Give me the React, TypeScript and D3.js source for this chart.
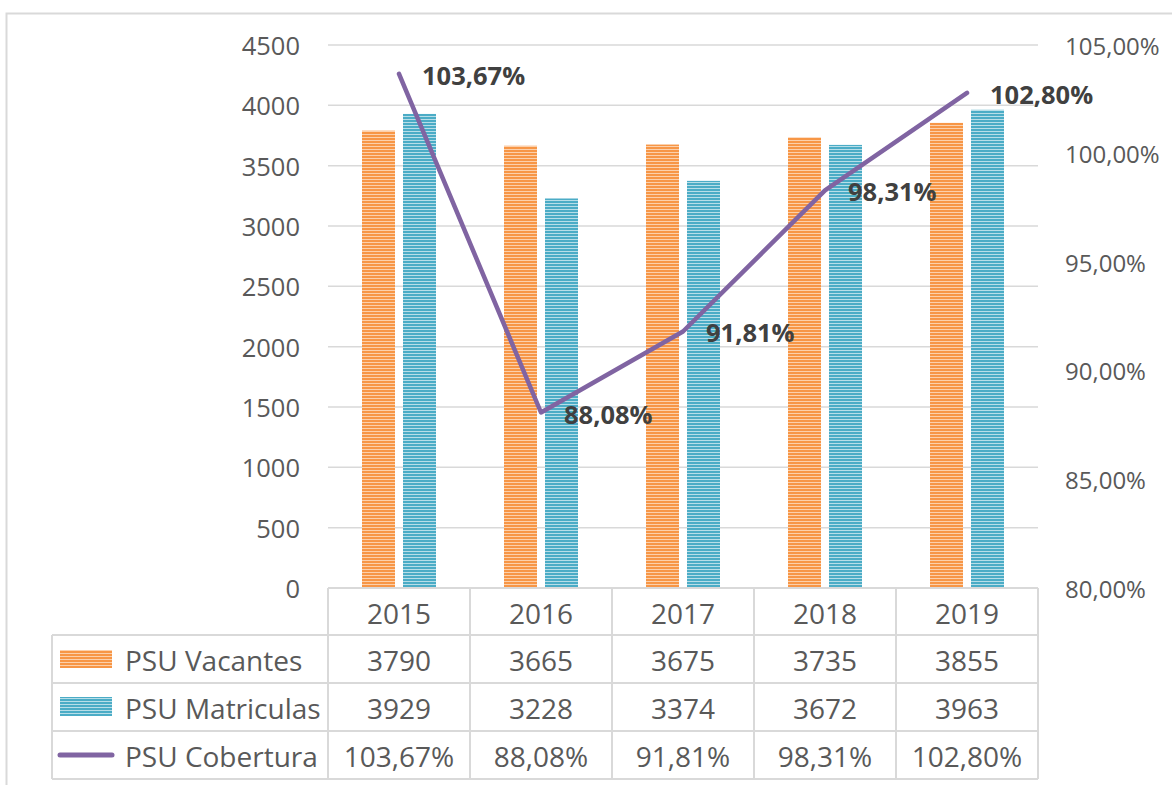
import React from 'react';
import * as d3 from 'd3';

const years = ['2015', '2016', '2017', '2018', '2019'];
const vacantes = [3790, 3665, 3675, 3735, 3855];
const matriculas = [3929, 3228, 3374, 3672, 3963];
const cobertura = [103.67, 88.08, 91.81, 98.31, 102.8];
const leftTicks = [0, 500, 1000, 1500, 2000, 2500, 3000, 3500, 4000, 4500];
const rightTicks = [80, 85, 90, 95, 100, 105];
const seriesNames = ['PSU Vacantes', 'PSU Matriculas', 'PSU Cobertura'];

const W = 1172;
const H = 785;
const FONT = '"Open Sans", sans-serif';
const TXT = '#595959';
const GRID = '#d9d9d9';
const ORANGE = '#f79646';
const BLUE = '#4bacc6';
const PURPLE = '#8064a2';

const pct = (v: number) => v.toFixed(2).replace('.', ',') + '%';

export default function App() {
  const left = 328, right = 1038, top = 45, bottom = 588;
  const x = d3.scaleBand<string>().domain(years).range([left, right]);
  const y = d3.scaleLinear().domain([0, 4500]).range([bottom, top]);
  const y2 = d3.scaleLinear().domain([80, 105]).range([bottom, top]);
  const bw = x.bandwidth();
  const barW = 33;
  const cx = (d: string) => (x(d) as number) + bw / 2;

  const line = d3.line<number>()
    .x((_, i) => cx(years[i]))
    .y(v => y2(v));

  const rowY = [588, 635, 683, 731, 779];
  const tableLeft = 52;
  const rows = [vacantes.map(String), matriculas.map(String), cobertura.map(pct)];

  return (
    <svg width={W} height={H} style={{ display: 'block', position: 'absolute', left: 0, top: 0 }}
      fontFamily={FONT}>
      <defs>
        <pattern id="pOrange" width={4} height={3} patternUnits="userSpaceOnUse">
          <rect width={4} height={3} fill="#fcd0ab" />
          <rect width={4} height={2} fill={ORANGE} />
        </pattern>
        <pattern id="pBlue" width={4} height={3} patternUnits="userSpaceOnUse">
          <rect width={4} height={3} fill="#b7dee8" />
          <rect width={4} height={2} fill={BLUE} />
        </pattern>
      </defs>
      <rect x={0} y={0} width={W} height={H} fill="#fff" />
      <rect x={6.5} y={13.5} width={1170} height={790} fill="none" stroke={GRID} strokeWidth={2} />

      {/* gridlines */}
      {leftTicks.map(t => (
        <line key={t} x1={left} x2={right} y1={y(t)} y2={y(t)} stroke={GRID} strokeWidth={1.5} />
      ))}

      {/* bars */}
      {years.map((yr, i) => (
        <g key={yr}>
          <rect x={cx(yr) - 37} y={y(vacantes[i])} width={barW} height={bottom - y(vacantes[i])}
            fill="url(#pOrange)" />
          <rect x={cx(yr) + 4} y={y(matriculas[i])} width={barW} height={bottom - y(matriculas[i])}
            fill="url(#pBlue)" />
        </g>
      ))}

      {/* line */}
      <path d={line(cobertura) || ''} fill="none" stroke={PURPLE} strokeWidth={4.5}
        strokeLinejoin="round" strokeLinecap="round" />
      {cobertura.map((v, i) => (
        <text key={i} x={cx(years[i]) + 23} y={y2(v) + 1} dominantBaseline="central"
          fontSize={25.5} fontWeight="bold" fill="#404040">{pct(v)}</text>
      ))}

      {/* left axis */}
      {leftTicks.map(t => (
        <text key={t} x={300} y={y(t)} textAnchor="end" dominantBaseline="central"
          fontSize={25.5} fill={TXT}>{t}</text>
      ))}
      {/* right axis */}
      {rightTicks.map(t => (
        <text key={t} x={1065} y={y2(t)} dominantBaseline="central"
          fontSize={24} fill={TXT}>{pct(t)}</text>
      ))}

      {/* data table */}
      <g stroke={GRID} strokeWidth={2}>
        <line x1={left} x2={right} y1={rowY[0]} y2={rowY[0]} />
        {rowY.slice(1).map(r => (
          <line key={r} x1={tableLeft} x2={right} y1={r} y2={r} />
        ))}
        <line x1={tableLeft} x2={tableLeft} y1={rowY[1]} y2={rowY[4]} />
        {years.map(yr => (
          <line key={yr} x1={x(yr)} x2={x(yr)} y1={rowY[0]} y2={rowY[4]} />
        ))}
        <line x1={right} x2={right} y1={rowY[0]} y2={rowY[4]} />
      </g>
      {years.map(yr => (
        <text key={yr} x={cx(yr)} y={(rowY[0] + rowY[1]) / 2 + 1} textAnchor="middle"
          dominantBaseline="central" fontSize={28} fill={TXT}>{yr}</text>
      ))}
      {rows.map((row, r) => (
        <g key={r}>
          {row.map((v, i) => (
            <text key={i} x={cx(years[i])} y={(rowY[r + 1] + rowY[r + 2]) / 2 + 1} textAnchor="middle"
              dominantBaseline="central" fontSize={28} fill={TXT}>{v}</text>
          ))}
          <text x={125} y={(rowY[r + 1] + rowY[r + 2]) / 2 + 1} dominantBaseline="central"
            fontSize={28} fill={TXT}>{seriesNames[r]}</text>
        </g>
      ))}
      {/* legend keys */}
      <rect x={60} y={650} width={52} height={18} fill="url(#pOrange)" />
      <rect x={60} y={697} width={52} height={19} fill="url(#pBlue)" />
      <line x1={60} x2={112} y1={755} y2={755} stroke={PURPLE} strokeWidth={5} strokeLinecap="round" />
    </svg>
  );
}
